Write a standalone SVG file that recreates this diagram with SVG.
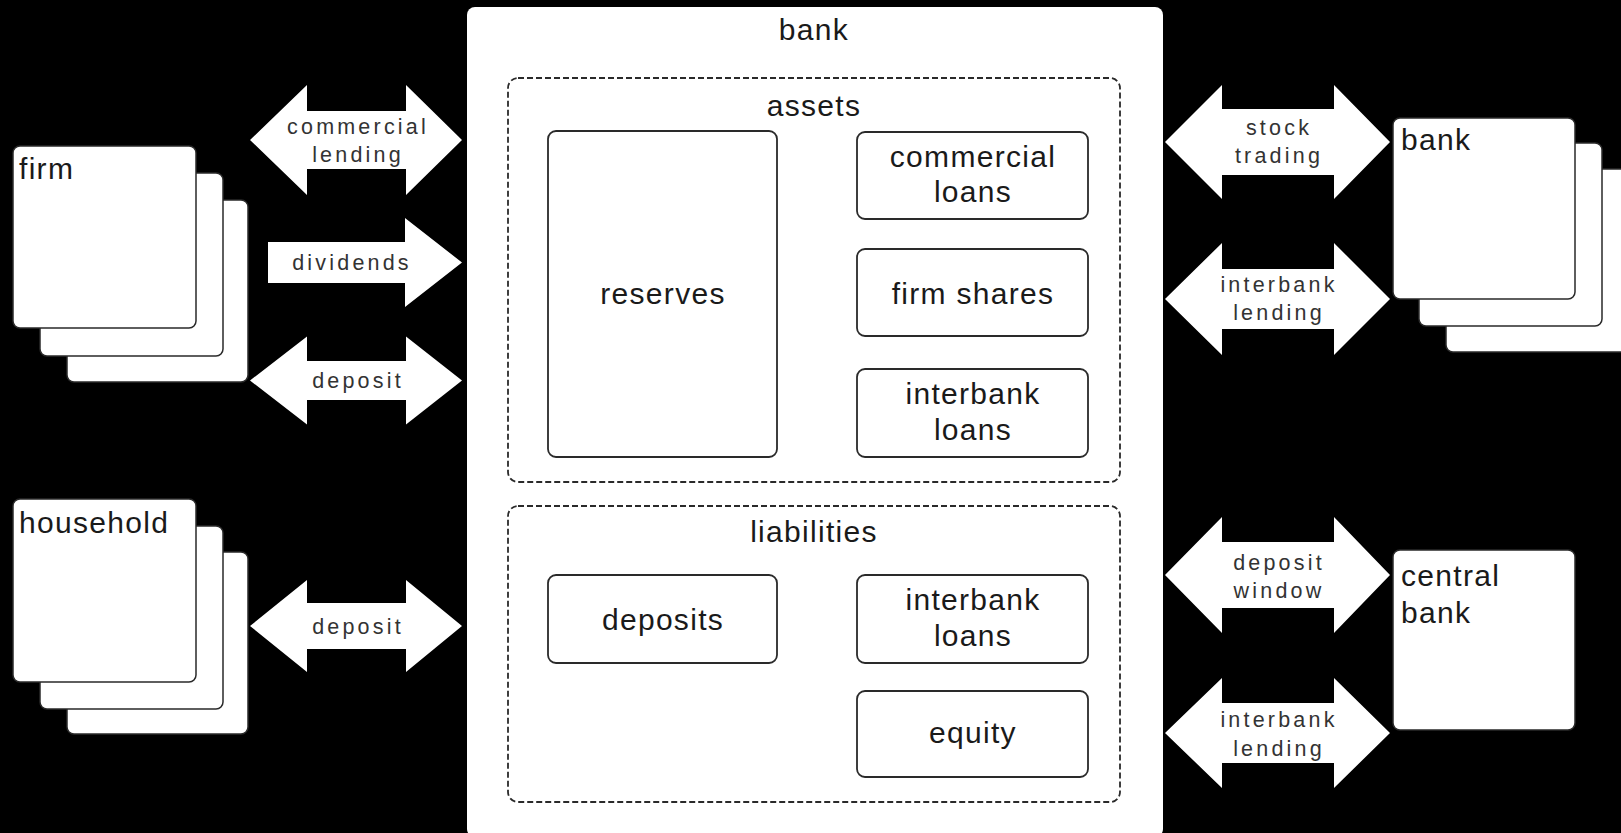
<svg xmlns="http://www.w3.org/2000/svg" width="1621" height="833" viewBox="0 0 1621 833">
<style>
.box{fill:#fff;stroke:#2a2a2a;stroke-width:1.8}
.card{fill:#fff;stroke:#2a2a2a;stroke-width:1.5}
.dash{fill:none;stroke:#2a2a2a;stroke-width:1.8;stroke-dasharray:6 3}
.arrow{fill:#fff;stroke:none}
.t{font-family:"Liberation Sans",Arial,sans-serif;font-size:30px;fill:#1a1a1a;letter-spacing:1.3px}
.c{text-anchor:middle}
.s{font-family:"Liberation Sans",Arial,sans-serif;font-size:21.5px;fill:#333;letter-spacing:3.2px;text-anchor:middle}
</style>
<rect x="0" y="0" width="1621" height="833" fill="#000"/>

<g id="firm">
<rect class="card" x="67" y="200" width="181" height="182" rx="7"/>
<rect class="card" x="40" y="173" width="183" height="183" rx="7"/>
<rect class="card" x="13" y="146" width="183" height="182" rx="7"/>
<text class="t" x="19" y="179">firm</text>
</g>

<g id="household">
<rect class="card" x="67" y="552" width="181" height="182" rx="7"/>
<rect class="card" x="40" y="526" width="183" height="183" rx="7"/>
<rect class="card" x="13" y="499" width="183" height="183" rx="7"/>
<text class="t" x="19" y="533">household</text>
</g>

<g id="bank-main">
<rect x="467" y="7" width="696" height="830" rx="8" fill="#fff"/>
<text class="t c" x="814" y="40">bank</text>
</g>

<g id="assets">
<rect class="dash" x="508" y="78" width="612" height="404" rx="10"/>
<text class="t c" x="814" y="116">assets</text>
</g>

<g id="reserves">
<rect class="box" x="548" y="131" width="229" height="326" rx="8"/>
<text class="t c" x="663" y="304">reserves</text>
</g>

<g id="commercial-loans">
<rect class="box" x="857" y="132" width="231" height="87" rx="8"/>
<text class="t c" x="973" y="167">commercial</text>
<text class="t c" x="973" y="202">loans</text>
</g>

<g id="firm-shares">
<rect class="box" x="857" y="249" width="231" height="87" rx="8"/>
<text class="t c" x="973" y="304">firm shares</text>
</g>

<g id="interbank-loans-assets">
<rect class="box" x="857" y="369" width="231" height="88" rx="8"/>
<text class="t c" x="973" y="404">interbank</text>
<text class="t c" x="973" y="440">loans</text>
</g>

<g id="liabilities">
<rect class="dash" x="508" y="506" width="612" height="296" rx="10"/>
<text class="t c" x="814" y="542">liabilities</text>
</g>

<g id="deposits">
<rect class="box" x="548" y="575" width="229" height="88" rx="8"/>
<text class="t c" x="663" y="630">deposits</text>
</g>

<g id="interbank-loans-liabilities">
<rect class="box" x="857" y="575" width="231" height="88" rx="8"/>
<text class="t c" x="973" y="610">interbank</text>
<text class="t c" x="973" y="646">loans</text>
</g>

<g id="equity">
<rect class="box" x="857" y="691" width="231" height="86" rx="8"/>
<text class="t c" x="973" y="743">equity</text>
</g>

<g id="other-banks">
<rect class="card" x="1446" y="169" width="190" height="183" rx="7"/>
<rect class="card" x="1419" y="143" width="183" height="183" rx="7"/>
<rect class="card" x="1393" y="118" width="182" height="181" rx="7"/>
<text class="t" x="1401" y="150">bank</text>
</g>

<g id="central-bank">
<rect class="card" x="1393" y="550" width="182" height="180" rx="7"/>
<text class="t" x="1401" y="586">central</text>
<text class="t" x="1401" y="623">bank</text>
</g>

<g id="connectors">
<polygon class="arrow" points="250,140 307,85 307,111 406,111 406,85 462,140 406,195 406,169 307,169 307,195"/>
<text class="s" x="358" y="134">commercial</text>
<text class="s" x="358" y="162">lending</text>

<polygon class="arrow" points="268,242 405,242 405,218 462,262.5 405,307 405,283 268,283"/>
<text class="s" x="352" y="270">dividends</text>

<polygon class="arrow" points="250,380.5 307,336.5 307,361 406,361 406,336.5 462,380.5 406,424.5 406,400 307,400 307,424.5"/>
<text class="s" x="358" y="388">deposit</text>

<polygon class="arrow" points="250,626 307,580 307,603 406,603 406,580 462,626 406,672 406,649 307,649 307,672"/>
<text class="s" x="358" y="634">deposit</text>

<polygon class="arrow" points="1165,142 1222,85 1222,109 1334,109 1334,85 1390,142 1334,199 1334,175 1222,175 1222,199"/>
<text class="s" x="1279" y="135">stock</text>
<text class="s" x="1279" y="163">trading</text>

<polygon class="arrow" points="1165,299 1222,243 1222,269 1334,269 1334,243 1390,299 1334,355 1334,329 1222,329 1222,355"/>
<text class="s" x="1279" y="292">interbank</text>
<text class="s" x="1279" y="320">lending</text>

<polygon class="arrow" points="1165,575 1222,517 1222,542 1334,542 1334,517 1390,575 1334,633 1334,608 1222,608 1222,633"/>
<text class="s" x="1279" y="570">deposit</text>
<text class="s" x="1279" y="598">window</text>

<polygon class="arrow" points="1165,733 1222,678 1222,703 1334,703 1334,678 1390,733 1334,788 1334,763 1222,763 1222,788"/>
<text class="s" x="1279" y="727">interbank</text>
<text class="s" x="1279" y="756">lending</text>
</g>
</svg>
